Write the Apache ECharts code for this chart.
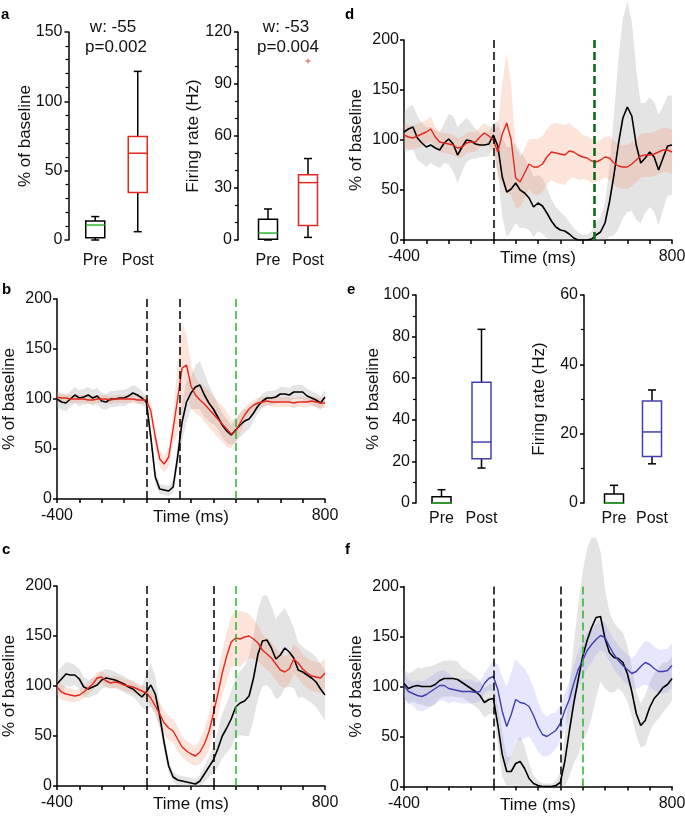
<!DOCTYPE html>
<html><head><meta charset="utf-8">
<script src="https://cdn.jsdelivr.net/npm/echarts@6/dist/echarts.min.js"></script>
<style>html,body{margin:0;padding:0;background:#fff}#c{width:685px;height:816px}</style>
</head><body><div id="c"></div>
<script>
// ---------- time base (ms) ----------
const TIME = [-400,-380,-360,-340,-320,-300,-280,-260,-240,-220,-200,-180,-160,-140,-120,-100,-80,-60,-40,-20,
  0,20,40,60,80,100,120,140,160,180,200,220,240,260,280,300,320,340,360,380,400,420,440,460,480,500,520,540,560,580,600,620,640,660,680,700,720,740,760,780,800];

// ---------- panel b ----------
const B_BLACK = [100,97,96,100,104,101,102,104,101,103,98,97,100,100,101,101,103,106,104,101,
  97,62,22,10,9,8,12,42,77,97,106,112,114,104,96,90,82,74,68,64,69,74,78,80,86,93,98,101,101,102,105,105,104,107,107,107,103,101,99,96,102];
const B_BLACK_SD = [8,8,8,8,8,8,8,8,8,8,8,8,8,8,8,8,8,8,8,7,
  6,8,8,5,5,5,6,12,20,20,16,22,24,22,18,15,12,12,12,10,12,12,12,10,8,7,7,7,7,7,7,7,7,7,7,7,7,7,7,7,7];
const B_RED = [102,101,101,100,100,100,100,99,99,100,100,100,99,100,100,100,100,100,99,99,
  99,88,62,40,35,42,70,100,131,134,113,104,99,95,90,85,80,75,70,65,68,76,84,90,94,96,97,98,97,97,97,97,97,96,97,97,97,98,97,96,96];
const B_RED_SD = [4,4,4,4,4,4,4,4,4,4,4,4,4,4,4,4,4,4,4,4,
  4,10,10,8,8,10,15,35,45,30,22,18,16,18,18,18,18,18,18,14,12,10,8,6,5,5,5,5,5,5,5,5,5,5,5,5,5,5,5,5,5];
const B_EVENTS = [0, 150];
const B_GO = 400;

// ---------- panel c ----------
const C_BLACK = [102,107,112,111,111,107,99,97,99,101,106,108,107,106,104,102,99,97,93,89,
  94,101,92,70,43,20,9,6,5,4,3,2,5,12,19,26,37,50,58,67,79,83,85,90,108,132,145,146,138,127,131,138,134,128,116,114,111,108,104,97,91];
const C_BLACK_SD = [12,12,12,12,10,10,10,9,9,9,9,9,9,8,8,8,8,8,8,10,
  18,22,18,12,8,6,5,5,5,5,5,5,6,8,10,14,18,22,25,28,30,32,35,40,42,45,45,45,42,40,42,40,35,30,28,25,25,25,25,25,25];
const C_RED = [99,94,92,91,90,91,94,98,102,108,109,105,103,104,103,101,100,99,97,95,
  93,88,80,72,63,58,55,47,39,35,32,30,34,42,54,72,92,113,130,144,148,147,149,150,147,143,136,132,128,122,116,114,117,127,123,117,113,110,109,108,113];
const C_RED_SD = [8,8,7,7,6,6,6,6,6,6,6,6,6,6,6,6,6,6,6,6,
  6,8,10,12,12,12,12,12,10,10,10,10,12,15,18,20,22,22,25,25,28,28,25,22,20,18,16,16,16,16,16,16,15,15,15,15,15,15,15,15,15];
const C_EVENTS = [0, 300];
const C_GO = 400;

// ---------- panel d ----------
const D_BLACK = [108,111,113,102,97,93,95,92,90,97,101,96,85,93,100,99,96,95,95,96,
  105,94,63,48,51,57,50,47,42,33,37,34,27,19,13,10,9,6,2,0,0,0,1,5,8,17,38,65,96,122,133,124,95,77,82,88,83,70,82,94,95];
const D_BLACK_SD = [20,22,22,22,20,20,18,18,18,20,25,28,28,25,22,18,15,12,12,12,
  12,25,40,45,42,40,38,35,32,30,28,28,25,22,20,18,15,12,10,8,5,5,8,12,15,20,35,60,85,100,105,95,75,60,55,55,55,55,52,50,50];
const D_RED = [105,103,102,104,106,108,111,103,98,97,96,95,92,93,97,98,98,103,107,104,
  100,88,106,117,100,62,58,67,76,73,73,76,83,88,87,86,85,89,88,85,83,82,79,78,80,83,82,77,74,73,73,76,80,84,85,85,86,88,90,90,88];
const D_RED_SD = [12,12,12,12,12,12,12,10,10,10,10,10,10,10,10,10,10,10,10,10,
  12,25,50,70,55,30,25,25,25,28,28,28,28,28,30,30,30,28,25,25,22,22,22,20,20,20,22,22,22,22,22,22,22,22,22,22,22,22,22,22,22];
const D_EVENTS = [0];
const D_GO = 450;

// ---------- panel f ----------
const F_BLACK = [103,98,100,101,100,100,100,102,106,108,108,108,107,104,101,98,95,91,84,87,
  88,62,32,15,15,23,25,18,8,3,1,0,0,0,1,4,25,55,83,107,130,146,159,169,170,148,134,129,128,124,113,95,73,61,66,79,88,93,99,102,108];
const F_BLACK_SD = [15,15,15,18,18,20,20,20,18,18,18,18,18,15,15,15,15,15,15,15,
  15,20,22,15,15,22,25,22,15,8,5,3,3,3,5,10,25,45,60,75,85,92,90,80,65,50,40,35,30,30,28,25,22,22,25,25,25,25,25,22,22];
const F_BLUE = [101,95,93,91,90,92,95,98,101,101,98,97,96,95,95,95,94,95,103,108,
  110,97,75,60,72,87,84,83,80,71,60,52,50,53,56,63,76,87,103,117,126,136,142,147,151,149,140,132,126,121,117,113,115,120,124,122,118,115,115,116,121];
const F_BLUE_SD = [12,12,12,15,15,15,15,15,15,15,15,12,12,12,12,12,10,10,10,12,
  15,25,35,40,42,40,38,35,30,28,25,22,20,20,18,18,18,18,18,18,18,18,18,15,15,15,15,15,15,15,15,15,18,20,22,22,22,22,22,22,22];
const F_EVENTS = [0, 300];
const F_GO = 400;

// ---------- box plots: [lowWhisker, Q1, median, Q3, highWhisker] ----------
const BOX_CATS = ['Pre', 'Post'];
const A_PCT_PRE  = [0, 1.7, 10.8, 13.7, 16.9];
const A_PCT_POST = [6.0, 34.2, 62.6, 74.6, 121.6];
const A_HZ_PRE   = [0, 0.4, 4.0, 11.9, 17.9];
const A_HZ_POST  = [1.5, 8.3, 33.1, 37.6, 47.0];
const A_HZ_OUTLIER = [103.2];
const E_PCT_PRE  = [0, 0, 0, 3.0, 6.4];
const E_PCT_POST = [16.8, 21.3, 29.3, 58.1, 83.5];
const E_HZ_PRE   = [0, 0, 0, 2.6, 5.1];
const E_HZ_POST  = [11.3, 13.4, 20.5, 29.4, 32.6];
const A_STATS = ['w: -55', 'p=0.002', 'w: -53', 'p=0.004'];

// ---------- styles ----------
const FONT = 'Liberation Sans';
const TXT = '#111';
const RED = '#e4281e', BLUE = '#4040b0', GREEN = '#2db52d', DKGREEN = '#0e6b1c', BLACK = '#000';
const GRAY_BAND = 'rgba(165,165,165,0.30)';
const RED_BAND = 'rgba(240,130,90,0.22)';
const BLUE_BAND = 'rgba(130,130,245,0.20)';

const grids = [], xAxes = [], yAxes = [], series = [];
const axisLineStyle = {color: BLACK, width: 1.5};

function addTracePanel(left, top, traces, events, go, goStyle) {
  const gi = grids.length;
  grids.push({left, top, width: 268, height: 200, containLabel: false, outerBoundsMode: 'none'});
  xAxes.push({
    type: 'value', gridIndex: gi, min: -400, max: 800, interval: 100,
    name: 'Time (ms)', nameLocation: 'middle', nameGap: 10, nameMoveOverlap: false,
    nameTextStyle: {fontSize: 17, color: TXT, fontFamily: FONT},
    axisLine: {onZero: false, lineStyle: axisLineStyle},
    axisTick: {length: 4, lineStyle: axisLineStyle},
    splitLine: {show: false},
    axisLabel: {fontSize: 16, color: TXT, fontFamily: FONT, margin: 9, showMinLabel: true, showMaxLabel: true,
      formatter: v => (v === -400 || v === 800) ? String(v) : ''}
  });
  yAxes.push({
    type: 'value', gridIndex: gi, min: 0, max: 200, interval: 50,
    name: '% of baseline', nameLocation: 'middle', nameGap: 39, nameMoveOverlap: false,
    nameTextStyle: {fontSize: 17, color: TXT, fontFamily: FONT},
    axisLine: {show: true, onZero: false, lineStyle: axisLineStyle},
    axisTick: {show: true, length: 4, lineStyle: axisLineStyle},
    splitLine: {show: false},
    axisLabel: {fontSize: 16, color: TXT, fontFamily: FONT, margin: 5}
  });
  // shaded error bands: one polygon per trace, built from mean +/- sd via the axis scales
  traces.forEach((tr) => {
    const lo = TIME.map((t, i) => Math.max(0, tr.mean[i] - tr.sd[i]));
    const hi = TIME.map((t, i) => tr.mean[i] + tr.sd[i]);
    series.push({
      type: 'custom', xAxisIndex: gi, yAxisIndex: gi, clip: false, silent: true, z: 1,
      encode: {x: 0, y: [1, 2]},
      data: TIME.map((t, i) => [t, lo[i], hi[i]]),
      renderItem: function (params, api) {
        if (params.dataIndex !== 0) return null;
        const upper = TIME.map((t, i) => api.coord([t, hi[i]]));
        const lower = TIME.map((t, i) => api.coord([t, lo[i]])).reverse();
        return {type: 'polygon', shape: {points: upper.concat(lower)}, style: {fill: tr.band}};
      }
    });
  });
  const marks = events.map(x => ({xAxis: x, lineStyle: {color: BLACK, width: 1.5, type: [8, 4]}}));
  marks.push({xAxis: go, lineStyle: goStyle});
  traces.forEach((tr, k) => {
    const s = {type: 'line', xAxisIndex: gi, yAxisIndex: gi, data: TIME.map((t, i) => [t, tr.mean[i]]),
      symbol: 'none', lineStyle: {color: tr.color, width: tr.width}, z: 3, silent: true};
    if (k === 0) s.markLine = {symbol: ['none', 'none'], silent: true, label: {show: false}, data: marks, animation: false};
    series.push(s);
  });
}

function addBoxPanel(cfg, boxes, styles) {
  const gi = grids.length;
  grids.push({left: cfg.left, top: cfg.top, width: cfg.width, height: cfg.height, containLabel: false, outerBoundsMode: 'none'});
  xAxes.push({
    type: 'category', gridIndex: gi, data: BOX_CATS, boundaryGap: true,
    axisLine: {show: false}, axisTick: {show: false}, splitLine: {show: false},
    axisLabel: {interval: 0, hideOverlap: false, fontSize: 16, color: TXT, fontFamily: FONT, margin: cfg.labelMargin}
  });
  yAxes.push({
    type: 'value', gridIndex: gi, min: 0, max: cfg.max, interval: cfg.interval, offset: cfg.offset,
    name: cfg.name, nameLocation: 'middle', nameGap: cfg.nameGap, nameMoveOverlap: false,
    nameTextStyle: {fontSize: 17, color: TXT, fontFamily: FONT},
    axisLine: {show: true, onZero: false, lineStyle: axisLineStyle},
    axisTick: {show: true, length: 4, lineStyle: axisLineStyle},
    minorTick: {show: true, splitNumber: cfg.minor, length: 3, lineStyle: {color: BLACK, width: 1.2}},
    splitLine: {show: false}, minorSplitLine: {show: false},
    axisLabel: {fontSize: 16, color: TXT, fontFamily: FONT, margin: 6}
  });
  series.push({
    type: 'custom', xAxisIndex: gi, yAxisIndex: gi, clip: false, silent: true, z: 3,
    encode: {x: 0, y: [1, 2, 3, 4, 5]},
    data: boxes.map((b, i) => [i].concat(b)),
    renderItem: function (params, api) {
      const i = api.value(0);
      const c = v => api.coord([i, v]);
      const lo = c(api.value(1)), q1 = c(api.value(2)), md = c(api.value(3)), q3 = c(api.value(4)), hi = c(api.value(5));
      const x = lo[0], hw = 9.5, cw = 4;
      const st = styles[params.dataIndex];
      const ln = (x1, y1, x2, y2, col) => ({type: 'line', shape: {x1, y1, x2, y2}, style: {stroke: col, lineWidth: 1.5}});
      const ch = [];
      if (hi[1] < q3[1] - 0.5) { ch.push(ln(x, hi[1], x, q3[1], BLACK)); ch.push(ln(x - cw, hi[1], x + cw, hi[1], BLACK)); }
      if (lo[1] > q1[1] + 0.5) { ch.push(ln(x, q1[1], x, lo[1], BLACK)); ch.push(ln(x - cw, lo[1], x + cw, lo[1], BLACK)); }
      ch.push({type: 'rect', shape: {x: x - hw, y: q3[1], width: 2 * hw, height: q1[1] - q3[1]},
        style: {fill: 'none', stroke: st.box, lineWidth: 1.5}});
      ch.push(ln(x - hw, md[1], x + hw, md[1], st.median));
      return {type: 'group', children: ch};
    }
  });
  return gi;
}

// ---------- panels ----------
const gA1 = addBoxPanel({left: 74, top: 32, width: 85, height: 208, offset: 5.5, max: 150, interval: 50, minor: 5,
  name: '% of baseline', nameGap: 35, labelMargin: 13},
  [A_PCT_PRE, A_PCT_POST], [{box: BLACK, median: GREEN}, {box: RED, median: RED}]);
const gA2 = addBoxPanel({left: 248, top: 32, width: 80, height: 208, offset: 10, max: 120, interval: 30, minor: 3,
  name: 'Firing rate (Hz)', nameGap: 36, labelMargin: 13},
  [A_HZ_PRE, A_HZ_POST], [{box: BLACK, median: GREEN}, {box: RED, median: RED}]);
series.push({type: 'scatter', xAxisIndex: gA2, yAxisIndex: gA2, data: A_HZ_OUTLIER.map(v => [1, v]),
  symbol: 'path://M2,0H3V2H5V3H3V5H2V3H0V2H2Z', symbolSize: 5, itemStyle: {color: RED}, silent: true, z: 4});

addTracePanel(57, 299, [
  {mean: B_BLACK, sd: B_BLACK_SD, color: BLACK, band: GRAY_BAND, width: 1.6},
  {mean: B_RED, sd: B_RED_SD, color: RED, band: RED_BAND, width: 1.4}
], B_EVENTS, B_GO, {color: GREEN, width: 1.5, type: [8, 4]});

addTracePanel(57, 586, [
  {mean: C_BLACK, sd: C_BLACK_SD, color: BLACK, band: GRAY_BAND, width: 1.6},
  {mean: C_RED, sd: C_RED_SD, color: RED, band: RED_BAND, width: 1.4}
], C_EVENTS, C_GO, {color: GREEN, width: 1.5, type: [8, 4]});

addTracePanel(404, 40, [
  {mean: D_BLACK, sd: D_BLACK_SD, color: BLACK, band: GRAY_BAND, width: 1.6},
  {mean: D_RED, sd: D_RED_SD, color: RED, band: RED_BAND, width: 1.4}
], D_EVENTS, D_GO, {color: DKGREEN, width: 2.6, type: [8, 4]});

addBoxPanel({left: 421.5, top: 295, width: 80, height: 208, offset: 5.5, max: 100, interval: 20, minor: 2,
  name: '% of baseline', nameGap: 34, labelMargin: 8},
  [E_PCT_PRE, E_PCT_POST], [{box: BLACK, median: GREEN}, {box: BLUE, median: BLUE}]);
addBoxPanel({left: 595, top: 295, width: 76, height: 208, offset: 11, max: 60, interval: 20, minor: 2,
  name: 'Firing rate (Hz)', nameGap: 36, labelMargin: 8},
  [E_HZ_PRE, E_HZ_POST], [{box: BLACK, median: GREEN}, {box: BLUE, median: BLUE}]);

addTracePanel(404, 586.5, [
  {mean: F_BLACK, sd: F_BLACK_SD, color: BLACK, band: GRAY_BAND, width: 1.6},
  {mean: F_BLUE, sd: F_BLUE_SD, color: BLUE, band: BLUE_BAND, width: 1.4}
], F_EVENTS, F_GO, {color: GREEN, width: 1.5, type: [8, 4]});

// ---------- text ----------
const letter = (t, x, y) => ({type: 'text', x, y, silent: true,
  style: {text: t, fill: BLACK, font: 'bold 15px "Liberation Sans"', verticalAlign: 'middle', align: 'left'}});
const stat = (t, x, y) => ({type: 'text', x, y, silent: true,
  style: {text: t, fill: TXT, font: '17px "Liberation Sans"', verticalAlign: 'middle', align: 'center'}});

const chart = echarts.init(document.getElementById('c'), null, {renderer: 'canvas'});
chart.setOption({
  animation: false,
  backgroundColor: '#fff',
  textStyle: {fontFamily: FONT},
  grid: grids, xAxis: xAxes, yAxis: yAxes, series,
  graphic: [
    letter('a', 1, 14.5), letter('b', 2, 289.5), letter('c', 2, 549.5),
    letter('d', 345, 14.5), letter('e', 347, 289.5), letter('f', 345, 549.5),
    stat(A_STATS[0], 113, 27), stat(A_STATS[1], 116, 47),
    stat(A_STATS[2], 286, 27), stat(A_STATS[3], 288, 47)
  ]
});
</script></body></html>
